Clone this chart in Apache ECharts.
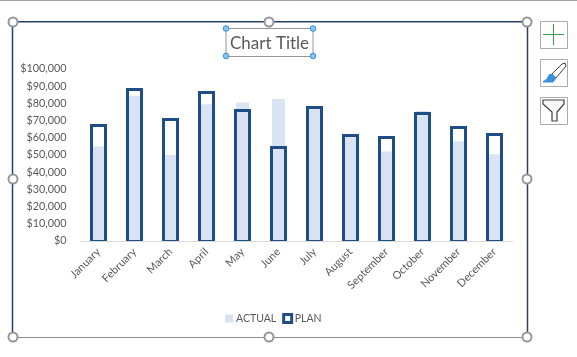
<!DOCTYPE html>
<html><head><meta charset="utf-8">
<style>html,body{margin:0;padding:0;background:#fff}#c{width:577px;height:357px}</style>
<script src="https://cdn.jsdelivr.net/npm/echarts@6/dist/echarts.min.js"></script>
</head><body><div id="c"></div>
<script>
const categories=['January','February','March','April','May','June','July','August','September','October','November','December'];
const actual=[55000,84500,50000,79500,80500,82500,77000,61000,52000,75600,58000,50500];
const plan=[68300,88800,71300,87200,76600,55200,78500,62000,61000,75000,66700,62800];
const titleText='Chart Title';
const gray='#a0a0a0', navy='#1f3f77', planColor='#1f4e86';
function handle(x,y){return {type:'circle',shape:{cx:x,cy:y,r:4.5},style:{fill:'#fff',stroke:'#969696',lineWidth:2},z:20};}
function blue(x,y){return {type:'circle',shape:{cx:x,cy:y,r:2.8},style:{fill:'#8cc4f2',stroke:'#2f8fe0',lineWidth:1},z:20};}
function line(x1,y1,x2,y2,c,w){return {type:'line',shape:{x1,y1,x2,y2},style:{stroke:c,lineWidth:w},z:10};}
function box(y){return {type:'rect',shape:{x:540.5,y:y,width:27,height:27},style:{fill:'#fff',stroke:'#ababab',lineWidth:1},z:10};}
function renderPlan(params,api){
  const i=api.value(0), top=api.coord([i,api.value(1)]), base=api.coord([i,0]);
  const half=7, x=top[0], t=Math.round(top[1])+1.5, b=base[1];
  return {type:'group',children:[
    {type:'polyline',shape:{points:[[x-half,b],[x-half,t],[x+half,t],[x+half,b]]},style:{fill:null,stroke:planColor,lineWidth:3,lineJoin:'miter'}},
    {type:'line',shape:{x1:x-half,y1:b-0.5,x2:x+half,y2:b-0.5},style:{stroke:planColor,lineWidth:1}}
  ]};
}
const chart=echarts.init(document.getElementById('c'),null,{renderer:'canvas'});
chart.setOption({
 animation:false,
 textStyle:{fontFamily:'Lato'},
 title:{text:titleText,left:225,top:30.5,textStyle:{fontFamily:'Lato',fontSize:17,fontWeight:'normal',color:'#595959'}},
 legend:{left:220,top:308,itemGap:6,itemWidth:8,itemHeight:8,selectedMode:false,
   textStyle:{fontFamily:'Lato',fontSize:10.5,color:'#595959',padding:[0,0,0,-2]},
   data:[{name:'ACTUAL',icon:'rect',itemStyle:{color:'#dae3f3'}},
         {name:'PLAN',icon:'rect',itemStyle:{color:'#fff',borderColor:planColor,borderWidth:3}}]},
 grid:{left:80.5,right:64.5,top:69,height:172},
 xAxis:{type:'category',data:categories,
   axisLine:{lineStyle:{color:'#d9d9d9',width:1}},axisTick:{show:false},
   axisLabel:{rotate:45,interval:0,margin:9,fontFamily:'Lato',fontSize:11,color:'#595959'}},
 yAxis:{type:'value',min:0,max:100000,interval:10000,
   axisLine:{show:false},axisTick:{show:false},splitLine:{show:false},
   axisLabel:{margin:14,fontFamily:'Lato',fontSize:10.8,color:'#595959',padding:[2,0,0,0],formatter:v=>'$'+v.toLocaleString('en-US')}},
 series:[
  {name:'ACTUAL',type:'bar',data:actual,barWidth:13,itemStyle:{color:'#dae3f3'}},
  {name:'PLAN',type:'custom',data:plan.map((v,i)=>[i,v]),encode:{x:0,y:1},renderItem:renderPlan,z:3,itemStyle:{color:planColor}}
 ],
 graphic:[
  line(0,0.5,577,0.5,gray,1),
  line(13,22.5,527,22.5,gray,1),line(13,21.5,527,21.5,navy,1),
  line(13,337.5,527,337.5,'#8c8c8c',1),
  line(12.5,22,12.5,337,navy,1.5),line(527.5,22,527.5,337,'#2f3f5f',1.5),
  handle(13,22),handle(269,22),handle(527,22),handle(13,179),handle(527,179),handle(13,337),handle(269,337),handle(527,337),
  {type:'rect',shape:{x:226,y:28.5,width:87,height:28},style:{fill:'none',stroke:'#969696',lineWidth:1},z:9},
  blue(226,28.5),blue(313,28.5),blue(226,56),blue(313,56),
  box(21.5),box(59.5),box(97.5),
  line(543,34.5,564,34.5,'#2e9e4f',1),line(553.5,24,553.5,45,'#2e9e4f',1),
  {type:'polygon',shape:{points:[[565,63],[566,66],[556,78],[552,74],[562,64]]},style:{fill:'#fff',stroke:'#404040',lineWidth:1},z:11},
  {type:'polygon',shape:{points:[[552,74],[556,78],[553,82],[543,82],[547,79],[549,75]]},style:{fill:'#3b8ede',stroke:'#3b8ede',lineWidth:1},z:11},
  {type:'polygon',shape:{points:[[543,100],[564,100],[564,104],[557,112],[557,121],[552,121],[552,112],[543,104]]},style:{fill:'#f7f7f7',stroke:'#404040',lineWidth:1.2},z:11}
 ]
});
</script></body></html>
